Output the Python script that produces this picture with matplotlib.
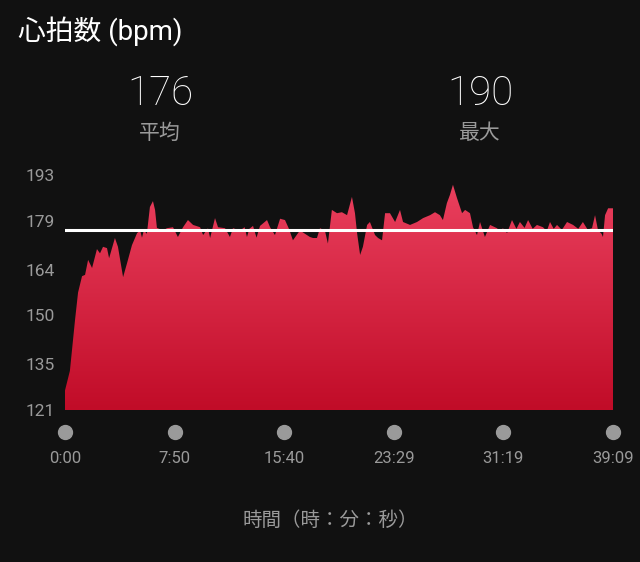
import matplotlib
matplotlib.use("Agg")
import matplotlib.pyplot as plt
import matplotlib.transforms as mtransforms
from matplotlib.colors import LinearSegmentedColormap
import numpy as np

# heart rate samples: elapsed seconds, bpm
seconds = [0, 21, 43, 56, 73, 86, 99, 116, 137, 150, 163, 180, 189, 214, 227,
           249, 266, 287, 309, 322, 330, 338, 351, 364, 377, 386, 394, 420,
           437, 463, 484, 506, 527, 549, 579, 592, 613, 622, 643, 656, 686,
           707, 720, 750, 770, 780, 790, 806, 821, 836, 866, 879, 900, 922,
           943, 960, 977, 1007, 1050, 1063, 1080, 1093, 1114, 1127, 1144,
           1166, 1187, 1209, 1230, 1243, 1252, 1265, 1277, 1295, 1307, 1329,
           1342, 1359, 1372, 1393, 1415, 1436, 1449, 1479, 1509, 1535, 1565,
           1586, 1607, 1620, 1637, 1650, 1663, 1680, 1702, 1715, 1736, 1749,
           1766, 1779, 1800, 1822, 1852, 1865, 1877, 1895, 1916, 1935, 1950,
           1970, 1985, 2005, 2023, 2049, 2065, 2079, 2095, 2109, 2130, 2152,
           2178, 2200, 2220, 2240, 2259, 2272, 2285, 2300, 2306, 2315, 2328,
           2349]
bpm = [127, 133, 148.6, 157, 162, 162.4, 167, 164.5, 170.3, 169, 171, 170.6,
       167.5, 173.7, 171, 161.7, 166, 171.5, 175.2, 176, 173.8, 176, 175,
       183.2, 185, 182.3, 176.8, 176, 176.7, 177, 174, 177, 179.2, 177.7,
       177, 174.6, 176.7, 173.7, 179.8, 177, 176.7, 174, 176.7, 176, 177,
       174, 176.5, 177.4, 173.8, 177.4, 179.2, 177, 174.6, 179.6, 179.2,
       176.5, 173, 176, 174, 173.7, 173.7, 176.7, 176, 172, 182.3, 181.3,
       181.6, 180.7, 186.3, 181.3, 175.2, 168.5, 171, 177.7, 178.6, 174.6,
       173.7, 173, 181.3, 181.3, 178.6, 182.3, 178.6, 177.7, 178.6, 179.8,
       180.7, 181.6, 180.7, 179.2, 184.4, 186.9, 190, 186, 181.3, 182.3,
       181.3, 177, 174.6, 178.6, 174, 177.7, 176.7, 175.5, 176.7, 175.2,
       179.2, 176.5, 178.6, 176.8, 179.2, 176.5, 177.7, 177, 175.8, 178.6,
       176.5, 177.7, 176.2, 178.6, 177.7, 176.5, 178.6, 176.3, 176.7, 180.7,
       176, 175, 174, 180.7, 182.8, 182.8]

avg_bpm = 176
max_bpm = 190
y_ticks = [121, 135, 150, 164, 179, 193]
x_ticks = [0, 470, 940, 1409, 1879, 2349]
x_labels = ["0:00", "7:50", "15:40", "23:29", "31:19", "39:09"]

bg = "#111111"
grey = "#9a9a9a"
num_font = ["Roboto", "Noto Sans CJK JP"]
jp_font = ["Noto Sans CJK JP", "DejaVu Sans"]

fig = plt.figure(figsize=(6.4, 5.62), dpi=100, facecolor=bg)
ax = fig.add_axes([65 / 640, 152 / 562, 548 / 640, 235 / 562])
ax.set_facecolor(bg)
ax.set_xlim(0, 2349)
ax.set_ylim(121, 193)

# gradient filled area, clipped to the heart rate polygon
fill = ax.fill_between(seconds, bpm, 121, color="none", lw=0)
cmap = LinearSegmentedColormap.from_list("hr", ["#c10c28", "#ea405e"])
grad = np.linspace(0, 1, 256).reshape(-1, 1)
img = ax.imshow(grad, cmap=cmap, origin="lower", aspect="auto",
                extent=[0, 2349, 121, 190], zorder=1)
path = fill.get_paths()[0]
img.set_clip_path(path, transform=ax.transData)

ax.axhline(avg_bpm, color="white", lw=2.2, zorder=3)

for s in ax.spines.values():
    s.set_visible(False)
ax.set_yticks(y_ticks)
ax.set_yticklabels([str(v) for v in y_ticks], color=grey, fontsize=12.5,
                   family=num_font)
ax.tick_params(axis="y", length=0, pad=7)
ax.set_xticks([])

# x axis: grey dots and time labels under the plot
trans = mtransforms.blended_transform_factory(ax.transData, ax.transAxes)
ax.plot(x_ticks, [-0.094] * len(x_ticks), "o", color=grey, ms=10,
        transform=trans, clip_on=False)
for x, lab in zip(x_ticks, x_labels):
    ax.text(x, -0.205, lab, transform=trans, ha="center", va="center",
            color=grey, fontsize=12, family=num_font)

fig.text(330 / 640, 1 - 520 / 562, "時間（時：分：秒）", ha="center",
         va="center", color=grey, fontsize=14, family=jp_font)

# header
fig.text(18 / 640, 1 - 31 / 562, "心拍数 (bpm)", ha="left", va="center",
         color="white", fontsize=20, family=num_font)
fig.text(160 / 640, 1 - 94 / 562, str(avg_bpm), ha="center", va="center",
         color="white", fontsize=29, family=num_font, fontweight="light")
fig.text(160 / 640, 1 - 133 / 562, "平均", ha="center", va="center",
         color=grey, fontsize=15, family=jp_font)
fig.text(480 / 640, 1 - 94 / 562, str(max_bpm), ha="center", va="center",
         color="white", fontsize=29, family=num_font, fontweight="light")
fig.text(480 / 640, 1 - 133 / 562, "最大", ha="center", va="center",
         color=grey, fontsize=15, family=jp_font)

fig.savefig("out.png", dpi=100, facecolor=bg)
